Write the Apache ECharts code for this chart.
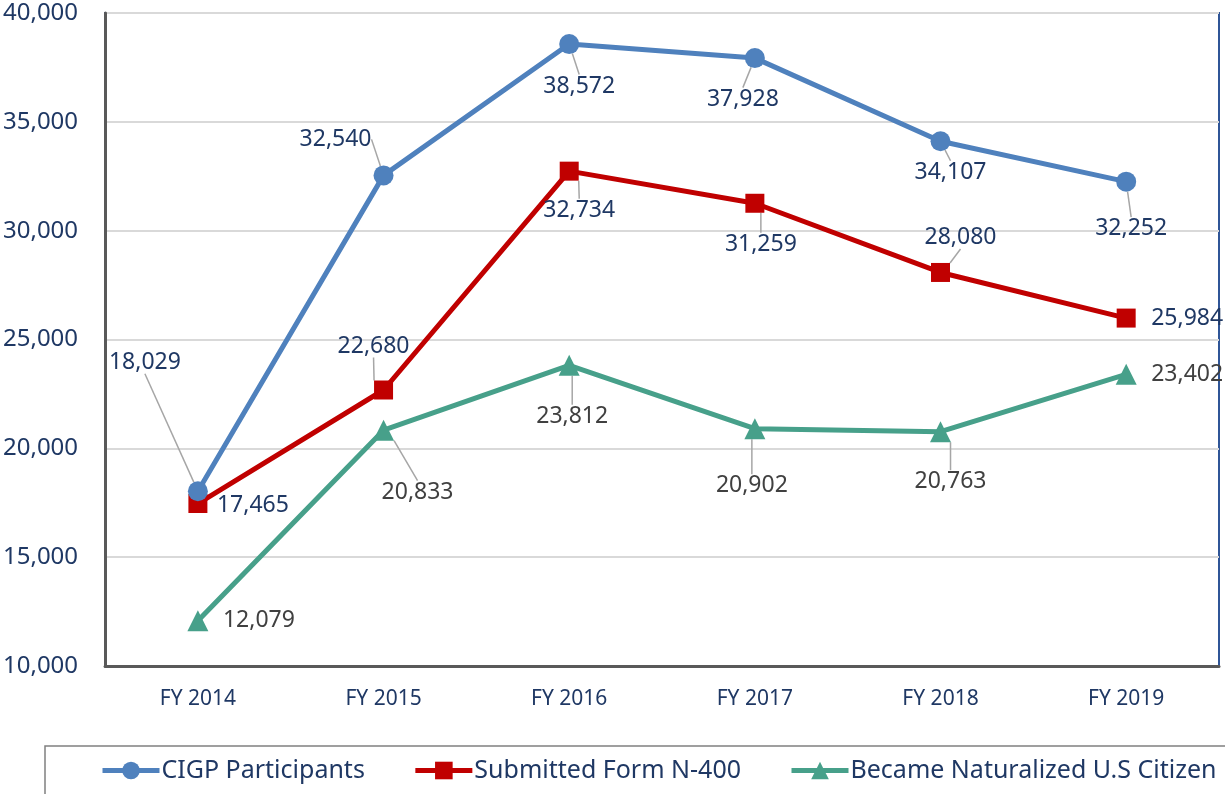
<!DOCTYPE html>
<html>
<head>
<meta charset="utf-8">
<script src="https://cdn.jsdelivr.net/npm/echarts@6/dist/echarts.min.js"></script>
<style>
  html, body { margin: 0; padding: 0; background: #fff; }
  #chart { width: 1225px; height: 794px; }
</style>
</head>
<body>
<div id="chart"></div>
<script>
// data
var years = ['FY 2014', 'FY 2015', 'FY 2016', 'FY 2017', 'FY 2018', 'FY 2019'];
var cigpParticipants = [18029, 32540, 38572, 37928, 34107, 32252];
var submittedN400 = [17465, 22680, 32734, 31259, 28080, 25984];
var becameCitizen = [12079, 20833, 23812, 20902, 20763, 23402];
var seriesNames = ['CIGP Participants', 'Submitted Form N-400', 'Became Naturalized U.S Citizen'];

// label offsets (px from the marker centre), per series
var labelShift = [
    [[-53, -129], [-48, -36], [10, 42], [-12, 41], [10, 31], [5, 47]],
    [[55, 2], [-10, -44], [10, 39], [6, 41], [20, -35], [61, 0]],
    [[61, 0], [34, 62], [3, 51], [-3, 57], [10, 50], [61, 0]]
];
// leader lines hidden for labels sitting right beside the marker
var noLeader = [[], [0, 5], [0, 5]];

var navy = '#1f3864';
var font = '"Noto Sans", sans-serif';

function buildData(values, s) {
    return values.map(function(v, i) {
        var item = {value: v};
        if (noLeader[s].indexOf(i) >= 0) {
            item.labelLine = {show: false};
        }
        return item;
    });
}

function makeSeries(s, values, color, symbol, size, labelColor) {
    return {
        name: seriesNames[s],
        type: 'line',
        data: buildData(values, s),
        symbol: symbol,
        symbolSize: size,
        lineStyle: {color: color, width: 5},
        itemStyle: {color: color},
        label: {
            show: true,
            position: 'inside',
            color: labelColor,
            fontFamily: font,
            fontSize: 23,
            formatter: function(p) {
                return p.value.toLocaleString('en-US');
            }
        },
        labelLine: {
            show: true,
            lineStyle: {color: '#a6a6a6', width: 1.5}
        },
        labelLayout: function(params) {
            var d = labelShift[s][params.dataIndex];
            return {dx: d[0], dy: d[1]};
        },
        z: 3 - s
    };
}

var chart = echarts.init(document.getElementById('chart'));

var option = {
    animation: false,
    grid: {
        left: 102,
        right: 6,
        top: 13,
        bottom: 128,
        show: true,
        borderColor: '#2f5597',
        borderWidth: 2
    },
    legend: {
        left: 45,
        top: 746,
        width: 1260,
        padding: [12, 20, 30, 55],
        borderColor: '#808080',
        borderWidth: 1.5,
        itemWidth: 57,
        itemHeight: 22,
        itemGap: 48,
        lineStyle: {width: 5},
        textStyle: {color: navy, fontFamily: font, fontSize: 25, padding: [0, 0, 0, -3]},
        data: seriesNames
    },
    xAxis: {
        type: 'category',
        data: years,
        boundaryGap: true,
        axisLine: {lineStyle: {color: '#595959', width: 3}},
        axisTick: {show: false},
        axisLabel: {color: navy, fontFamily: font, fontSize: 21, margin: 23}
    },
    yAxis: {
        type: 'value',
        min: 10000,
        max: 40000,
        interval: 5000,
        axisLine: {show: true, lineStyle: {color: '#595959', width: 3}},
        axisTick: {show: false},
        splitLine: {lineStyle: {color: '#d9d9d9', width: 2}},
        axisLabel: {
            color: navy,
            fontFamily: font,
            fontSize: 24,
            margin: 27,
            formatter: function(v) { return v.toLocaleString('en-US'); }
        }
    },
    series: [
        makeSeries(0, cigpParticipants, '#4f81bd', 'circle', 20, navy),
        makeSeries(1, submittedN400, '#c00000', 'rect', 19, navy),
        makeSeries(2, becameCitizen, '#47a08a', 'triangle', 21, '#404040')
    ]
};

chart.setOption(option);
</script>
</body>
</html>
